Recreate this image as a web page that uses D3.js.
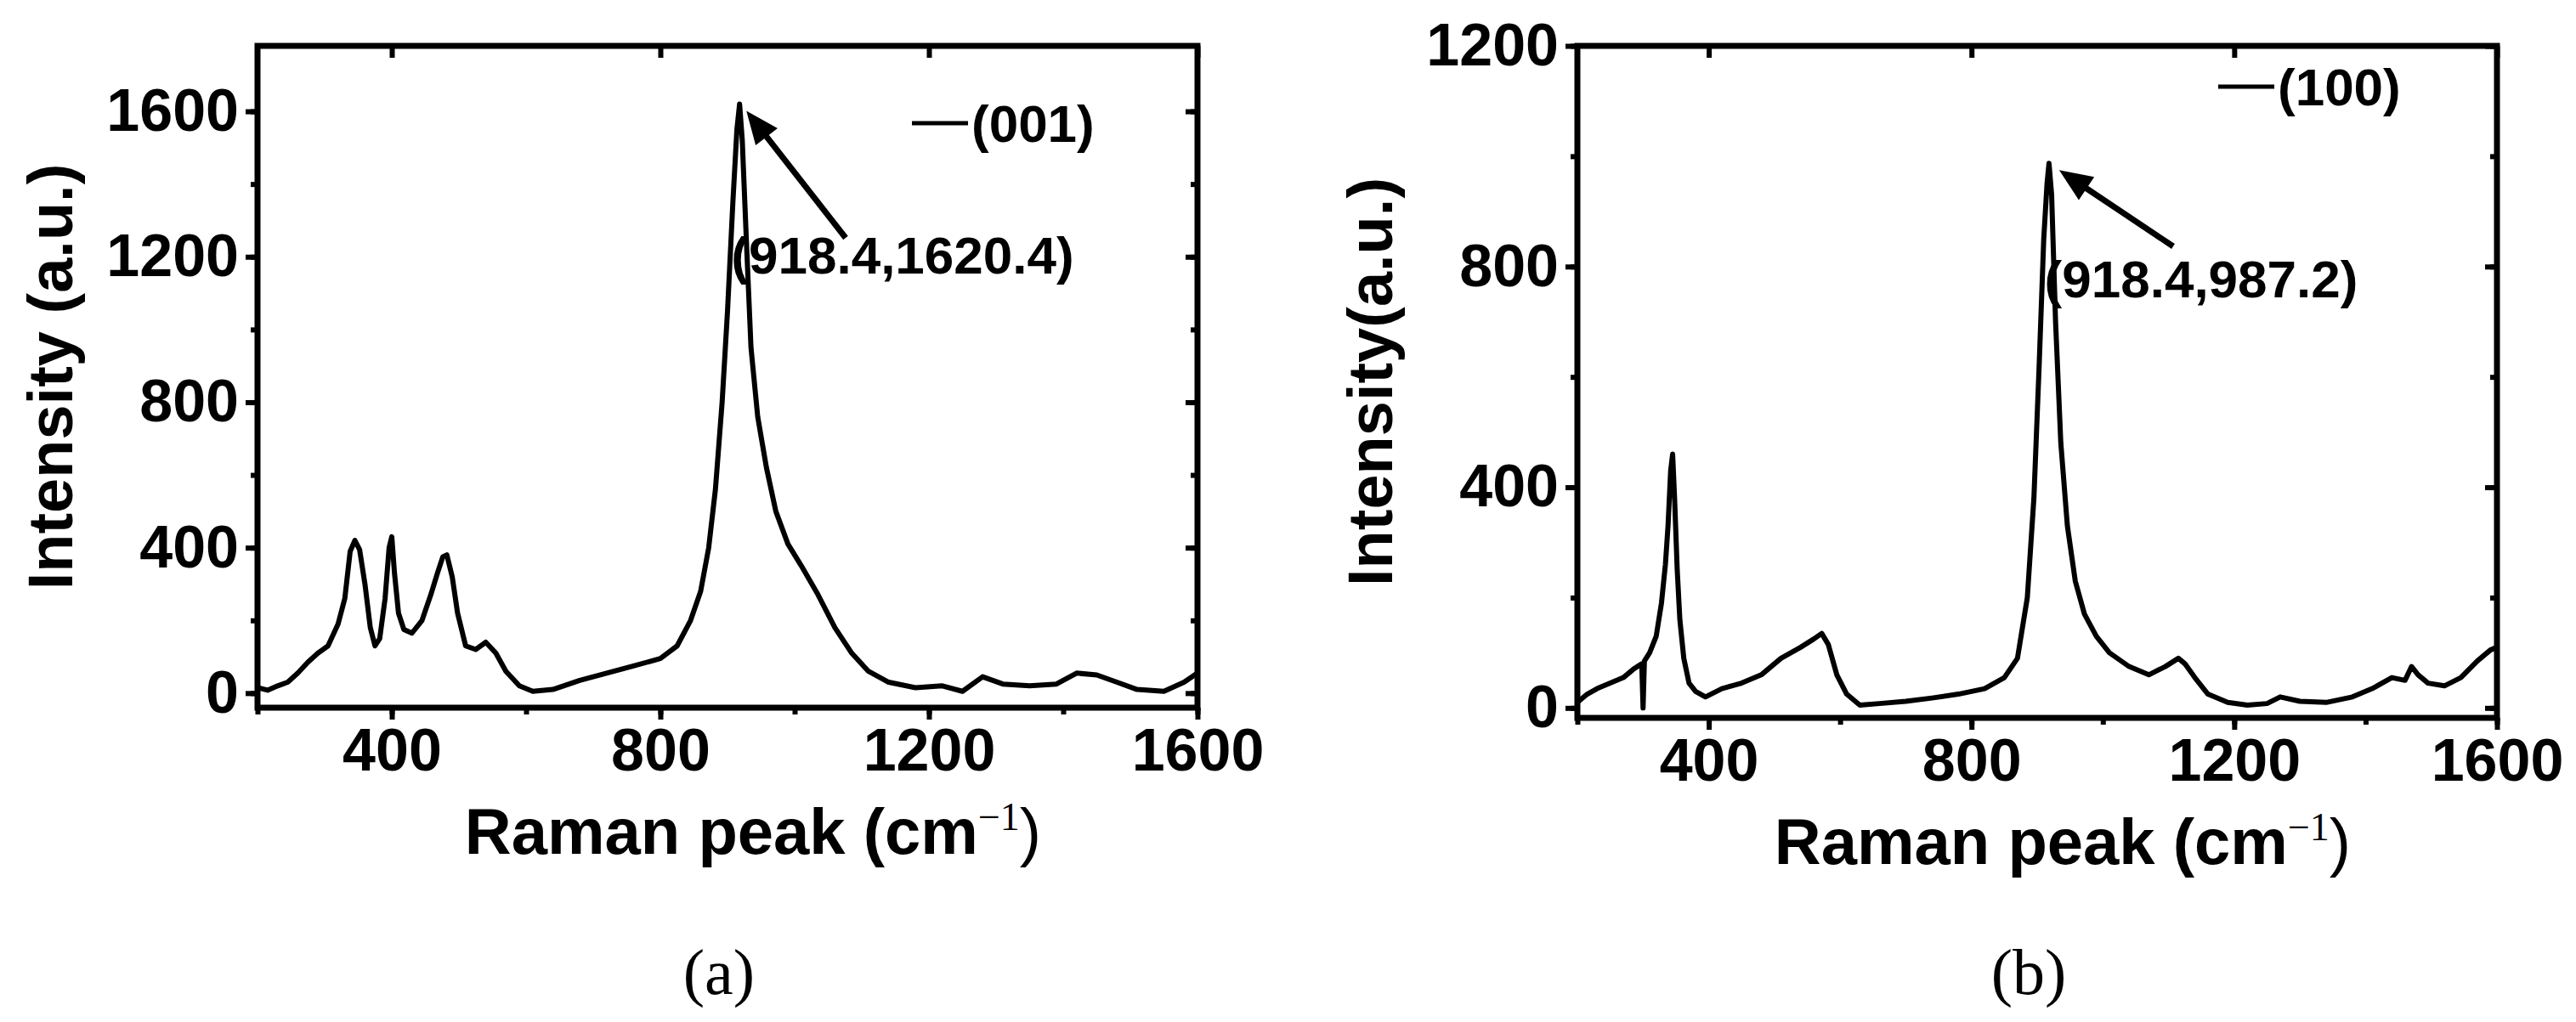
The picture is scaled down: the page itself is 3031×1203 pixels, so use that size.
<!DOCTYPE html>
<html><head><meta charset="utf-8">
<script src="https://cdn.jsdelivr.net/npm/d3@7"></script>
<style>
body{margin:0;background:#fff}
</style></head><body>
<svg id="chart" width="3031" height="1203"></svg>
<script>
// spectrum (001)
const xA = [200,215,230,245,260,275,290,305,320,330,338,345,352,360,368,375,382,390,396,400,404,410,418,430,445,458,468,476,482,490,498,510,525,540,555,570,590,610,640,680,720,760,800,825,845,860,872,882,892,900,908,914,918,922,928,935,945,958,972,990,1010,1035,1060,1085,1110,1140,1180,1220,1250,1280,1310,1350,1390,1420,1450,1480,1510,1550,1580,1600];
const yA = [15,8,20,30,55,85,110,130,190,260,390,420,395,300,180,130,150,260,400,430,330,220,175,165,200,270,330,375,380,320,220,130,120,140,110,60,20,5,10,35,55,75,95,130,200,280,400,560,800,1050,1350,1550,1620,1520,1250,950,760,620,500,410,350,270,180,110,60,30,15,20,5,45,25,20,25,55,50,30,10,5,30,55];
// spectrum (100)
const xB = [200,215,230,250,270,285,298,300,302,310,320,328,334,338,342,345,348,352,356,362,370,380,395,420,450,480,510,540,560,572,582,595,610,630,660,700,740,780,820,850,870,885,895,903,910,915,918,922,928,936,946,958,972,990,1010,1040,1070,1095,1115,1125,1140,1160,1190,1220,1250,1270,1300,1340,1380,1410,1440,1460,1470,1480,1495,1520,1545,1570,1590,1600];
const yB = [10,25,35,45,55,70,80,0,85,100,130,190,260,330,430,460,380,250,160,90,45,30,20,35,45,60,90,110,125,135,115,60,25,5,8,12,18,25,35,55,90,200,380,620,850,950,987,930,700,480,330,230,170,130,100,75,60,75,90,80,55,25,10,5,8,20,12,10,20,35,55,50,75,60,45,40,55,85,105,110];
const xTicks = [400,800,1200,1600];

const svg = d3.select("#chart");
const NARROW = '"Liberation Sans Narrow","Liberation Sans",Arial,sans-serif';

function panel(o) {
  const x = d3.scaleLinear().domain([200,1600]).range([o.left,o.right]);
  const y = d3.scaleLinear().domain(o.ydom).range([o.bottom,o.top]);
  const g = svg.append("g");
  const minorX = d3.range(200,1601,200), minorY = d3.range(0,o.ydom[1]+1,200);
  const bold = s => s.style("font-family",NARROW).style("font-weight","bold").attr("font-size",70);

  // bottom axis, ticks outward
  g.append("g").attr("transform",`translate(0,${o.bottom})`)
    .call(d3.axisBottom(x).tickValues(xTicks).tickFormat(d3.format("d")).tickSize(14).tickPadding(10))
    .call(a=>bold(a.selectAll("text")));
  g.append("g").attr("transform",`translate(0,${o.bottom})`)
    .call(d3.axisBottom(x).tickValues(minorX).tickFormat("").tickSize(8));
  // left axis
  g.append("g").attr("transform",`translate(${o.left},0)`)
    .call(d3.axisLeft(y).tickValues(o.yTicks).tickFormat(d3.format("d")).tickSize(14).tickPadding(8))
    .call(a=>bold(a.selectAll("text")));
  g.append("g").attr("transform",`translate(${o.left},0)`)
    .call(d3.axisLeft(y).tickValues(minorY).tickFormat("").tickSize(8));
  // top + right, inward
  g.append("g").attr("transform",`translate(0,${o.top})`)
    .call(d3.axisBottom(x).tickValues(xTicks).tickFormat("").tickSize(14));
  g.append("g").attr("transform",`translate(${o.right},0)`)
    .call(d3.axisLeft(y).tickValues(o.yTicks).tickFormat("").tickSize(14));
  g.append("g").attr("transform",`translate(${o.right},0)`)
    .call(d3.axisLeft(y).tickValues(minorY).tickFormat("").tickSize(8));
  g.selectAll(".domain").remove();
  g.selectAll(".tick line").attr("stroke","#000").attr("stroke-width",6);
  g.selectAll(".tick text").attr("fill","#000");

  g.append("rect").attr("x",o.left).attr("y",o.top)
    .attr("width",o.right-o.left).attr("height",o.bottom-o.top)
    .attr("fill","none").attr("stroke","#000").attr("stroke-width",7);

  g.append("path").datum(d3.zip(o.xs,o.ys))
    .attr("fill","none").attr("stroke","#000").attr("stroke-width",6).attr("stroke-linejoin","round")
    .attr("d",d3.line().x(d=>x(d[0])).y(d=>y(d[1])));

  // legend
  g.append("line").attr("x1",o.leg[0]).attr("x2",o.leg[0]+66).attr("y1",o.leg[1]).attr("y2",o.leg[1])
    .attr("stroke","#000").attr("stroke-width",5);
  g.append("text").attr("x",o.leg[0]+70).attr("y",o.leg[1]+22).attr("font-size",62)
    .style("font-family",NARROW).style("font-weight","bold").text(o.legText);

  // peak annotation arrow
  const tip = [x(918)+o.tipDx, y(o.peak)+8], tail = o.tail;
  const ang = Math.atan2(tip[1]-tail[1], tip[0]-tail[0]), L = 42, W = 0.4;
  g.append("line").attr("x1",tail[0]).attr("y1",tail[1])
    .attr("x2",tip[0]-Math.cos(ang)*30).attr("y2",tip[1]-Math.sin(ang)*30)
    .attr("stroke","#000").attr("stroke-width",7);
  g.append("path").attr("d",`M${tip}L${tip[0]-L*Math.cos(ang-W)},${tip[1]-L*Math.sin(ang-W)}L${tip[0]-L*Math.cos(ang+W)},${tip[1]-L*Math.sin(ang+W)}Z`);
  g.append("text").attr("x",o.ann[0]).attr("y",o.ann[1]).attr("text-anchor","middle")
    .attr("font-size",62).style("font-family",NARROW).style("font-weight","bold").text(`(918.4,${o.peakLabel})`);

  // axis titles
  const xt = g.append("text").attr("x",(o.left+o.right)/2 + 30).attr("y",o.bottom+172)
    .attr("text-anchor","middle").style("font-family","Liberation Sans").style("font-weight","bold").attr("font-size",76);
  xt.append("tspan").text("Raman peak ");
  xt.append("tspan").text("(cm");
  xt.append("tspan").style("font-family","Liberation Serif").style("font-weight","normal")
    .attr("font-size",46).attr("dy",-28).text("−1");
  xt.append("tspan").style("font-weight","normal").attr("dy",28).text(")");
  g.append("text").attr("transform",`translate(${o.left-218},${(o.top+o.bottom)/2}) rotate(-90)`)
    .attr("text-anchor","middle").style("font-family","Liberation Sans").style("font-weight","bold")
    .attr("font-size",74).text(o.yTitle);

  g.append("text").attr("x",(o.left+o.right)/2 - 10).attr("y",1170).attr("text-anchor","middle")
    .style("font-family","Liberation Serif").style("font-weight","normal").attr("font-size",76).text(o.tag);
}

panel({left:303,right:1409,top:54,bottom:833,ydom:[-40,1780],yTicks:[0,400,800,1200,1600],
  xs:xA,ys:yA,leg:[1073,145],legText:"(001)",peak:1620,peakLabel:"1620.4",tipDx:8,tail:[995,280],
  ann:[1062,322],yTitle:"Intensity (a.u.)",tag:"(a)"});
panel({left:1856,right:2938,top:54,bottom:845,ydom:[-18,1200],yTicks:[0,400,800,1200],
  xs:xB,ys:yB,leg:[2610,102],legText:"(100)",peak:987,peakLabel:"987.2",tipDx:12,tail:[2557,290],
  ann:[2590,350],yTitle:"Intensity(a.u.)",tag:"(b)"});
</script>
</body></html>
